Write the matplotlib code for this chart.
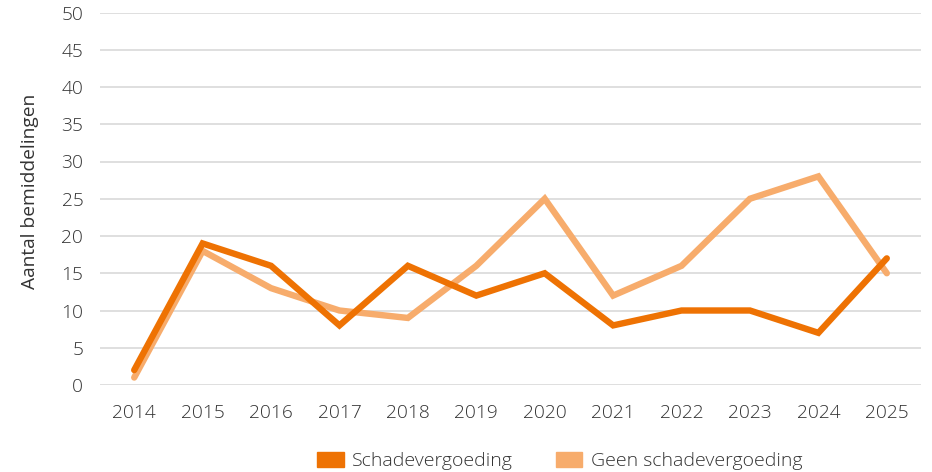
import matplotlib.pyplot as plt
from matplotlib.patches import Patch

years = ["2014", "2015", "2016", "2017", "2018", "2019",
         "2020", "2021", "2022", "2023", "2024", "2025"]
schade = [2, 19, 16, 8, 16, 12, 15, 8, 10, 10, 7, 17]
geen_schade = [1, 18, 13, 10, 9, 16, 25, 12, 16, 25, 28, 15]
yticks = list(range(0, 55, 5))

dark = "#ee7203"
light = "#f7ac6c"
text_col = "#333333"

plt.rcParams["font.family"] = ["Open Sans", "DejaVu Sans"]
plt.rcParams["font.weight"] = "light"

fig = plt.figure(figsize=(9.32, 4.72), dpi=100)
ax = fig.add_axes([100 / 932, 87 / 472, 821 / 932, 372.5 / 472])

x = list(range(len(years)))
ax.plot(x, geen_schade, color=light, lw=4.6, solid_capstyle="round",
        solid_joinstyle="miter", zorder=3)
ax.plot(x, schade, color=dark, lw=4.6, solid_capstyle="round",
        solid_joinstyle="miter", zorder=4)

ax.set_xlim(-0.5, len(years) - 0.5)
ax.set_ylim(0, 50)
ax.set_xticks(x)
ax.set_xticklabels(years)
ax.set_yticks(yticks)
ax.yaxis.grid(True, color="#d9d9d9", lw=1.2)
ax.set_axisbelow(True)
for s in ax.spines.values():
    s.set_visible(False)
ax.tick_params(axis="both", length=0, labelsize=13.8, colors=text_col)
ax.tick_params(axis="x", pad=14)
ax.tick_params(axis="y", pad=12)
ax.set_ylabel("Aantal bemiddelingen", fontsize=13.8, color=text_col)
ax.yaxis.set_label_coords(-0.074, 0.52)

handles = [Patch(color=dark, label="Schadevergoeding"),
           Patch(color=light, label="Geen schadevergoeding")]
fig.legend(handles=handles, loc="center", bbox_to_anchor=(560 / 932, 1 - 461 / 472),
           ncol=2, frameon=False, fontsize=14, handlelength=1.35, handleheight=0.8,
           columnspacing=2.2, handletextpad=0.45, labelcolor=text_col)

fig.savefig("out.png", dpi=100)
